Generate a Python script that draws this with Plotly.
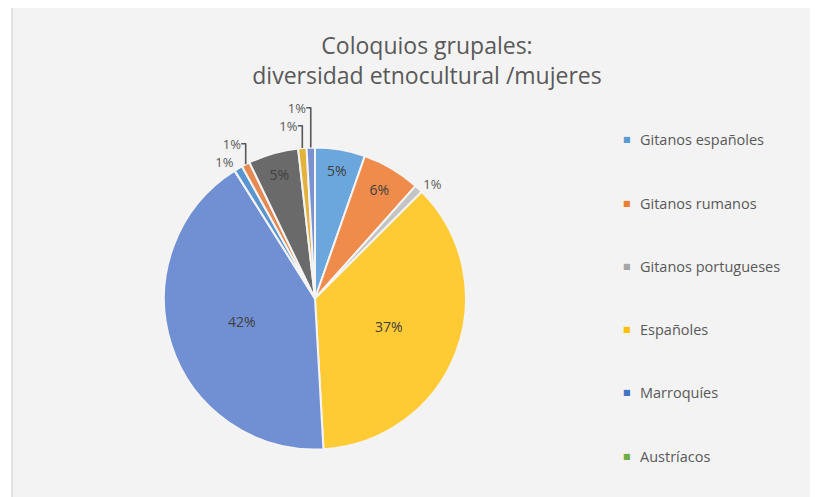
import plotly.graph_objects as go

# ---- data ----
categories = ["Gitanos españoles", "Gitanos rumanos", "Gitanos portugueses",
              "Españoles", "Marroquíes", "Austríacos",
              "Categoría 7", "Categoría 8", "Categoría 9", "Categoría 10", "Categoría 11"]
counts = [6, 7, 1, 41, 47, 0, 1, 1, 6, 1, 1]
slice_colors = ["#6BA7DC", "#F08C4B", "#C4C4C4", "#FFCB35", "#7090D3", "#70AD47",
                "#5A95D0", "#E48A52", "#6A6A6A", "#E2B23A", "#7A92D0"]
text_pos = ["inside", "inside", "outside", "inside", "inside", "none",
            "outside", "outside", "inside", "outside", "outside"]
legend_items = ["Gitanos españoles", "Gitanos rumanos", "Gitanos portugueses",
                "Españoles", "Marroquíes", "Austríacos"]
legend_colors = ["#5B9BD5", "#ED7D31", "#A5A5A5", "#FFC000", "#4472C4", "#70AD47"]
title_text = "Coloquios grupales:<br>diversidad etnocultural /mujeres"

W, H = 818, 497
OX, OY = 8, 8  # page body margin offset
FONT = "Open Sans"


def px(x):
    return (x - OX) / W


def py(y):
    return 1 - (y - OY) / H


fig = go.Figure(go.Pie(
    labels=categories,
    values=counts,
    sort=False,
    direction="clockwise",
    rotation=0,
    marker=dict(colors=slice_colors, line=dict(color="#F4F4F4", width=2)),
    textinfo="percent",
    texttemplate="%{percent:.0%}",
    textposition=text_pos,
    insidetextorientation="horizontal",
    insidetextfont=dict(family=FONT, size=14, color="#404040"),
    outsidetextfont=dict(family=FONT, size=13, color="#595959"),
    showlegend=False,
    domain=dict(x=[px(315 - 151), px(315 + 151)], y=[py(450), py(147)]),
))

shapes = [dict(type="rect", xref="paper", yref="paper",
               x0=px(12), x1=1.02, y0=-0.03, y1=py(7),
               fillcolor="#F3F3F3", line=dict(color="#DCDCDC", width=1.5), layer="below")]

annotations = []
for i, (name, col) in enumerate(zip(legend_items, legend_colors)):
    yy = py(140 + i * 63.2)
    annotations.append(dict(x=px(621), y=yy, xref="paper", yref="paper", text="■",
                            showarrow=False, xanchor="left", yanchor="middle",
                            font=dict(family="DejaVu Sans", size=8, color=col)))
    annotations.append(dict(x=px(638), y=yy, xref="paper", yref="paper", text=name,
                            showarrow=False, xanchor="left", yanchor="middle",
                            font=dict(family=FONT, size=14.5, color="#595959")))

fig.update_layout(
    width=W, height=H,
    margin=dict(l=0, r=0, t=0, b=0),
    paper_bgcolor="white",
    title=dict(text=title_text, x=px(427), xanchor="center", y=py(54), yanchor="top",
               font=dict(family=FONT, size=23, color="#595959")),
    shapes=shapes,
    annotations=annotations,
)

fig.write_html("out.html")
